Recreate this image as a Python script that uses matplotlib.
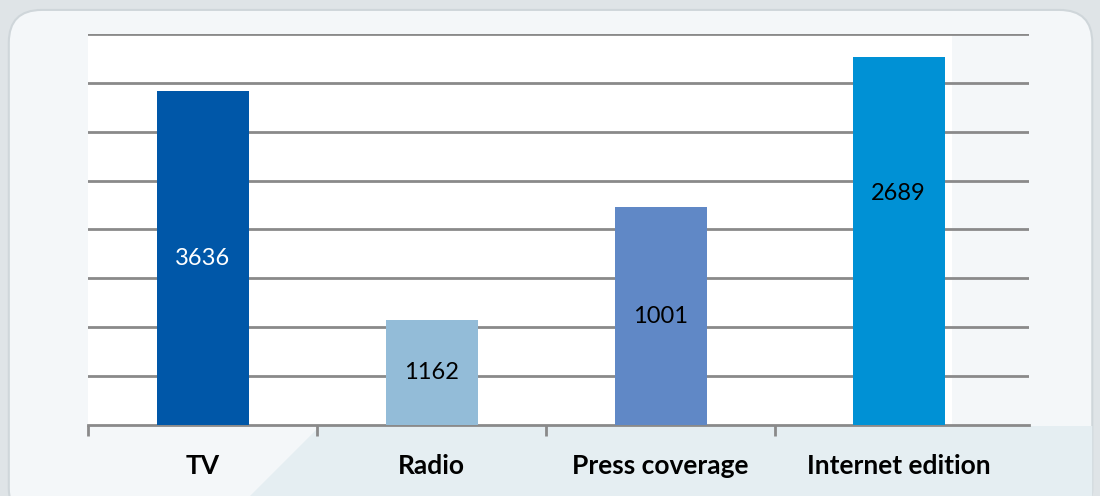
import matplotlib.pyplot as plt
from matplotlib.patches import FancyBboxPatch, Rectangle, Polygon

categories = ["TV", "Radio", "Press coverage", "Internet edition"]
bar_heights = [3415, 1075, 2230, 3765]
value_labels = ["3636", "1162", "1001", "2689"]
bar_colors = ["#0057a8", "#93bcd8", "#6088c6", "#0091d5"]
label_colors = ["white", "black", "black", "black"]

# x positions (internet bar sits slightly to the right in the original)
positions = [0, 1, 2, 3.04]
label_frac = [0.5, 0.5, 0.5, 0.63]

fig = plt.figure(figsize=(11, 4.96), dpi=100)
fig.patch.set_facecolor("#dfe4e7")

# rounded panel background, kept behind the axes
panel = FancyBboxPatch((0.008, -0.05), 0.985, 1.03, boxstyle="round,pad=0,rounding_size=0.03",
                       transform=fig.transFigure, facecolor="#f4f7f9", edgecolor="#cfd6da",
                       linewidth=1.5, mutation_aspect=2.2, zorder=-3)
fig.patches.append(panel)
diag = Polygon([(250 / 1100, 0), (320 / 1100, 70 / 496), (0.993, 70 / 496), (0.993, 0)],
               closed=True, transform=fig.transFigure, facecolor="#e5eef2", edgecolor="none",
               zorder=-2)
fig.patches.append(diag)
plot_bg = Rectangle((88 / 1100, 1 - 425 / 496), (952 - 88) / 1100, (425 - 34) / 496,
                    transform=fig.transFigure, facecolor="white", edgecolor="none", zorder=-1)
fig.patches.append(plot_bg)

ax = fig.add_axes([88 / 1100, 1 - 425 / 496, (1029 - 88) / 1100, (425 - 34) / 496])
ax.set_facecolor("none")

bars = ax.bar(positions, bar_heights, width=92 / 229, color=bar_colors, zorder=3)
for b, txt, col, fr in zip(bars, value_labels, label_colors, label_frac):
    ax.text(b.get_x() + b.get_width() / 2, b.get_height() * fr, txt, ha="center", va="center",
            color=col, fontsize=17, family="Lato", zorder=4)

ax.set_xlim(-0.5, (1029 - 88) / 229 - 0.5)
ax.set_ylim(0, 4000)
ax.set_yticks(range(500, 4001, 500))
ax.yaxis.grid(True, color="#8a8a8a", linewidth=2, zorder=1)
ax.set_axisbelow(True)
ax.tick_params(axis="y", left=False, labelleft=False)

ax.set_xticks([-0.5, 0.5, 1.5, 2.5])
ax.set_xticklabels([])
ax.tick_params(axis="x", length=8, width=2, color="#8a8a8a", direction="out")
for p, name in zip(positions, categories):
    ax.text(p, -0.105, name, transform=ax.get_xaxis_transform(), ha="center", va="center",
            fontsize=19, fontweight="bold", family="Lato")

for s in ["top", "right", "left"]:
    ax.spines[s].set_visible(False)
ax.spines["bottom"].set_color("#8a8a8a")
ax.spines["bottom"].set_linewidth(2)

plt.savefig("out.png", dpi=100, facecolor=fig.get_facecolor())
plt.close()
